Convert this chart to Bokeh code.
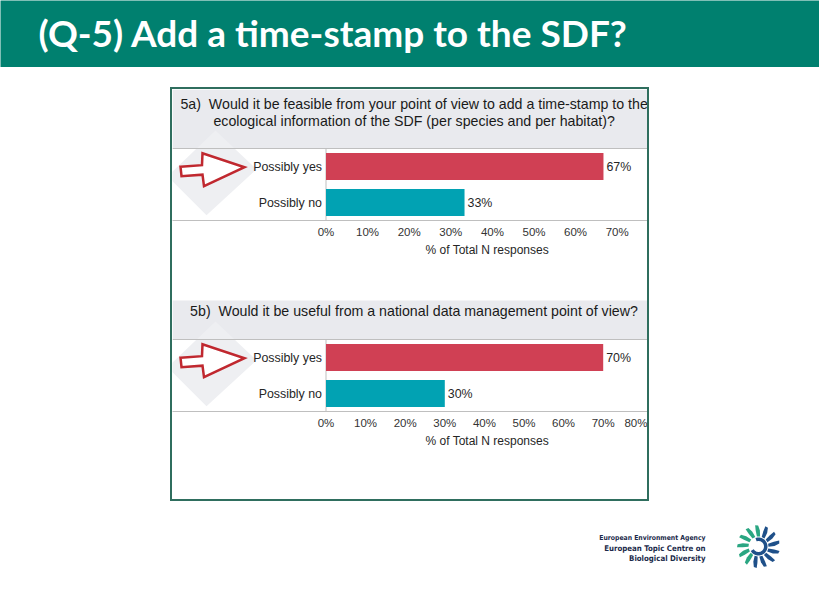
import numpy as np
from bokeh.plotting import figure
from bokeh.models import Range1d, FixedTicker, PrintfTickFormatter, Span, Title, Spacer
from bokeh.layouts import column, row
from bokeh.core.properties import value
from bokeh.embed import file_html
from bokeh.resources import INLINE

# ---------------- data ----------------
slide_title = "(Q-5) Add a time-stamp to the SDF?"
categories = ["Possibly yes", "Possibly no"]
q5a_question = ["5a)\u00a0\u00a0Would it be feasible from your point of view to add a time-stamp to the",
                "ecological information of the SDF (per species and per habitat)?"]
q5a_values = [66.7, 33.3]
q5a_ticks = [0, 10, 20, 30, 40, 50, 60, 70]
q5b_question = ["5b)\u00a0\u00a0Would it be useful from a national data management point of view?"]
q5b_values = [70.0, 30.0]
q5b_ticks = [0, 10, 20, 30, 40, 50, 60, 70, 80]
axis_title = "% of Total N responses"
logo_lines = ["European Environment Agency", "European Topic Centre on", "Biological Diversity"]

# ---------------- style ----------------
FONT = "Liberation Sans"
HEADER_BG = "#00806F"
BORDER = "#2F6E5E"
BAND = "#E9EAEE"
LINE = "#BFBFBF"
BAR_COLORS = ["#D04054", "#01A2B3"]
ARROW_RED = "#C0282F"
DIAMOND = "#EEEFF2"
TXT = "#262626"

PANEL_W = 475
FRAME_LEFT = 172.0
ZERO_X = 325.5
ROW_PX = 36.0

# arrow / diamond outlines: (page x, offset below the first bar centre) in pixels
ARROW_SHAPE = [(180, 0.2), (201.5, -1.3), (202, -13.3), (244, 0.7), (203.5, 19.7), (202, 8.2), (181, 9.7)]
DIAMOND_SHAPE = [(215, -36), (256, 2.7), (206, 48.7), (167, 9.7)]


def make_chart(question, vals, ticks, ppu, frame_h, band_top, q_y, height):
    n = len(categories)
    ys = [n - 0.5 - i for i in range(n)]
    x0 = -(ZERO_X - FRAME_LEFT) / ppu
    x1 = (FRAME_LEFT + PANEL_W - ZERO_X) / ppu
    ytop = frame_h / ROW_PX
    p = figure(width=PANEL_W, height=height, x_range=Range1d(x0, x1), y_range=Range1d(0, ytop),
               y_axis_location=None, toolbar_location=None, output_backend="svg",
               min_border_left=0, min_border_right=0, min_border_top=0,
               min_border_bottom=height - frame_h)
    p.outline_line_color = None
    p.grid.visible = False
    p.background_fill_color = "white"

    # question band
    p.quad(left=x0, right=x1, bottom=n, top=(frame_h - band_top) / ROW_PX,
           fill_color=BAND, line_color=None)

    def conv(shape):
        xs = [(X - ZERO_X) / ppu for X, dy in shape]
        yy = [ys[0] - dy / ROW_PX for X, dy in shape]
        return xs, yy

    dx, dy = conv(DIAMOND_SHAPE)
    p.patch(dx, dy, fill_color=DIAMOND, line_color=None)

    p.text(x=[(x0 + x1) / 2 + 1] * len(question), y=[(frame_h - q) / ROW_PX for q in q_y],
           text=question, text_align="center", text_baseline="middle",
           text_font=value(FONT), text_font_size="14.2px", text_color="#1A1A1A")

    p.add_layout(Span(location=n, dimension="width", line_color=LINE, line_width=1))
    p.segment(x0=[0], y0=[0], x1=[0], y1=[n], line_color=LINE, line_width=1)

    p.hbar(y=ys, left=0, right=vals, height=0.75, fill_color=BAR_COLORS, line_color=None)

    ax, ay = conv(ARROW_SHAPE)
    p.patch(ax, ay, fill_color="white", line_color=ARROW_RED, line_width=2.5, line_join="miter")

    p.text(x=[0] * n, y=ys, text=categories, x_offset=-4, text_align="right",
           text_baseline="middle", text_font=value(FONT), text_font_size="12.4px", text_color=TXT)
    p.text(x=vals, y=ys, text=[f"{v:.0f}%" for v in vals], x_offset=3, text_align="left",
           text_baseline="middle", text_font=value(FONT), text_font_size="12.4px", text_color=TXT)

    ax_ = p.xaxis[0]
    ax_.ticker = FixedTicker(ticks=ticks)
    ax_.formatter = PrintfTickFormatter(format="%d%%")
    ax_.axis_line_color = LINE
    ax_.major_tick_line_color = None
    ax_.minor_tick_line_color = None
    ax_.major_tick_out = 0
    ax_.major_tick_in = 0
    ax_.major_label_standoff = 5
    ax_.major_label_text_font = FONT
    ax_.major_label_text_font_size = "11.5px"
    ax_.major_label_text_color = "#333333"
    p.add_layout(Title(text=axis_title, align="left", offset=253, text_font=FONT,
                       text_font_size="12px", text_font_style="normal", text_color=TXT,
                       standoff=0), "below")
    return p


chart_a = make_chart(q5a_question, q5a_values, q5a_ticks, 4.16, 131, 0, [14, 31.5], 173)
chart_b = make_chart(q5b_question, q5b_values, q5b_ticks, 3.96, 149, 38, [48], 237)

# ---------------- header ----------------
header = figure(width=819, height=67, x_range=Range1d(0, 819), y_range=Range1d(67, 0),
                toolbar_location=None, output_backend="svg", min_border=0,
                x_axis_location=None, y_axis_location=None)
header.background_fill_color = HEADER_BG
header.border_fill_color = HEADER_BG
header.outline_line_color = None
header.grid.visible = False
header.text(x=[38], y=[32], text=[slide_title], text_align="left", text_baseline="middle",
            text_font=value("Lato"), text_font_style="bold", text_font_size="37px",
            text_color="white")

# ---------------- footer with logo ----------------
footer = figure(width=819, height=92, x_range=Range1d(0, 819), y_range=Range1d(593, 501),
                toolbar_location=None, output_backend="svg", min_border=0,
                x_axis_location=None, y_axis_location=None)
footer.outline_line_color = None
footer.grid.visible = False
footer.text(x=[705] * 3, y=[537, 547.5, 558], text=logo_lines, text_align="right",
            text_baseline="middle", text_font=value("'DejaVu Sans Condensed', Roboto"),
            text_font_style="bold", text_font_size=["6.8px", "7.8px", "7.8px"], text_color="#1B2A4A")

cx, cy = 758.0, 546.0
petal_xs, petal_ys, petal_cols = [], [], []
n_petals = 13
for k in range(n_petals):
    base = 90 + k * 360 / n_petals
    th = np.deg2rad(base)
    pts = [(10, th - np.deg2rad(9)), (16, th - np.deg2rad(5)), (21, th + np.deg2rad(1)),
           (21.5, th + np.deg2rad(9)), (16, th + np.deg2rad(10)), (10, th + np.deg2rad(9))]
    petal_xs.append([cx + r * np.cos(a) for r, a in pts])
    petal_ys.append([cy - r * np.sin(a) for r, a in pts])
    deg = base % 360
    petal_cols.append("#2AA682" if 80 <= deg <= 235 else "#1F5089")
footer.patches(petal_xs, petal_ys, fill_color=petal_cols, line_color=None)
arc = np.deg2rad(np.linspace(-150, 110, 40))
ring_x = list(cx + 9 * np.cos(arc)) + list(cx + 5.5 * np.cos(arc[::-1]))
ring_y = list(cy - 9 * np.sin(arc)) + list(cy - 5.5 * np.sin(arc[::-1]))
footer.patch(ring_x, ring_y, fill_color="#1F5089", line_color=None)

# ---------------- layout ----------------
bstyle = {"background-color": BORDER}
panel = column(
    Spacer(width=479, height=2, styles=bstyle),
    row(Spacer(width=2, height=410, styles=bstyle), column(chart_a, chart_b),
        Spacer(width=2, height=410, styles=bstyle)),
    Spacer(width=479, height=2, styles=bstyle),
)
layout = column(header, Spacer(width=819, height=20), row(Spacer(width=170, height=414), panel), footer)

open("out.html", "w").write(file_html(layout, INLINE))
